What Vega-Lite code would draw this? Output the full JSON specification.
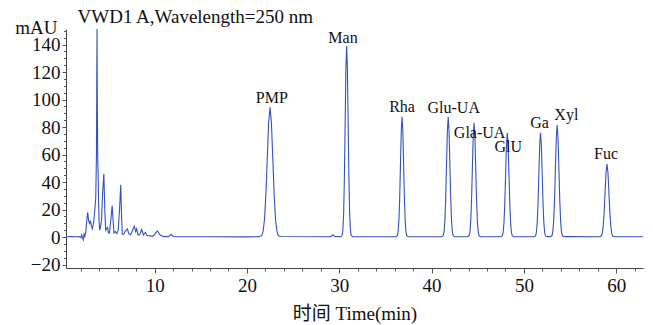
{
  "$schema": "https://vega.github.io/schema/vega-lite/v6.json",
  "width": 577,
  "height": 239,
  "autosize": {"type": "none"},
  "padding": {"left": 66, "top": 29, "right": 10, "bottom": 57},
  "background": "white",
  "config": {
    "view": {"stroke": null},
    "font": "Liberation Serif, Noto Sans CJK SC",
    "axis": {"grid": false, "domainColor": "#444", "tickColor": "#555", "labelColor": "#111", "titleColor": "#111", "labelFont": "Liberation Serif", "titleFont": "Liberation Serif, Noto Sans CJK SC", "labelFontSize": 19, "titleFontSize": 19, "titleFontWeight": "normal"}
  },
  "datasets": {
    "signal": [
      {"t": 0.4, "v": 0.2}, {"t": 1.0, "v": 0.3}, {"t": 1.5, "v": 0.2}, {"t": 1.8, "v": 0.4}, {"t": 2.0, "v": -0.5}, {"t": 2.1, "v": 1.5}, {"t": 2.2, "v": -1.0}, {"t": 2.27, "v": -2.0}, {"t": 2.35, "v": 2.0}, {"t": 2.45, "v": 0.5}, {"t": 2.55, "v": 4}, {"t": 2.65, "v": 12}, {"t": 2.75, "v": 18}, {"t": 2.85, "v": 12}, {"t": 2.95, "v": 10}, {"t": 3.05, "v": 12}, {"t": 3.15, "v": 8}, {"t": 3.25, "v": 6}, {"t": 3.35, "v": 9}, {"t": 3.45, "v": 14}, {"t": 3.55, "v": 22}, {"t": 3.62, "v": 28}, {"t": 3.7, "v": 60}, {"t": 3.76, "v": 151.3}, {"t": 3.8, "v": 90}, {"t": 3.84, "v": 56}, {"t": 3.88, "v": 46}, {"t": 3.93, "v": 26}, {"t": 3.98, "v": 12}, {"t": 4.05, "v": 5}, {"t": 4.15, "v": 8}, {"t": 4.25, "v": 12}, {"t": 4.35, "v": 30}, {"t": 4.5, "v": 46}, {"t": 4.6, "v": 20}, {"t": 4.7, "v": 5}, {"t": 4.8, "v": 6}, {"t": 4.9, "v": 7}, {"t": 5.0, "v": 3}, {"t": 5.1, "v": 3}, {"t": 5.25, "v": 12}, {"t": 5.4, "v": 23}, {"t": 5.5, "v": 12}, {"t": 5.6, "v": 3}, {"t": 5.75, "v": 4}, {"t": 5.9, "v": 2.5}, {"t": 6.05, "v": 5}, {"t": 6.2, "v": 20}, {"t": 6.33, "v": 38}, {"t": 6.42, "v": 15}, {"t": 6.5, "v": 2}, {"t": 6.65, "v": 2}, {"t": 6.8, "v": 4}, {"t": 7.05, "v": 6}, {"t": 7.2, "v": 2.5}, {"t": 7.4, "v": 1.5}, {"t": 7.6, "v": 5}, {"t": 7.8, "v": 8}, {"t": 7.95, "v": 4}, {"t": 8.05, "v": 6}, {"t": 8.2, "v": 1.5}, {"t": 8.4, "v": 2}, {"t": 8.6, "v": 5.5}, {"t": 8.8, "v": 1.5}, {"t": 9.0, "v": 3.5}, {"t": 9.2, "v": 1}, {"t": 9.5, "v": 1}, {"t": 9.8, "v": 0.5}, {"t": 10.0, "v": 2}, {"t": 10.3, "v": 4.5}, {"t": 10.6, "v": 1.5}, {"t": 11.0, "v": 0.3}, {"t": 11.5, "v": 0.3}, {"t": 11.8, "v": 2}, {"t": 12.0, "v": 0.4}, {"t": 12.5, "v": 0.2},
      {"t": 16.0, "v": 0.2}, {"t": 20.0, "v": 0.1},
      {"t": 21.3, "v": 0.3}, {"t": 21.6, "v": 1.0}, {"t": 21.75, "v": 4.1}, {"t": 21.9, "v": 12.8}, {"t": 22.05, "v": 30.6}, {"t": 22.2, "v": 57.2}, {"t": 22.35, "v": 83.2}, {"t": 22.5, "v": 94.3}, {"t": 22.65, "v": 83.2}, {"t": 22.8, "v": 57.2}, {"t": 22.95, "v": 30.6}, {"t": 23.1, "v": 12.8}, {"t": 23.25, "v": 4.1}, {"t": 23.4, "v": 1.0}, {"t": 23.7, "v": 0.4},
      {"t": 28.8, "v": 0.2}, {"t": 29.1, "v": 0.5}, {"t": 29.3, "v": 1.7}, {"t": 29.5, "v": 0.4}, {"t": 30.0, "v": 0.3},
      {"t": 30.16, "v": 0.2}, {"t": 30.32, "v": 1.5}, {"t": 30.4, "v": 6.1}, {"t": 30.48, "v": 18.8}, {"t": 30.56, "v": 45.1}, {"t": 30.64, "v": 84.3}, {"t": 30.72, "v": 122.7}, {"t": 30.8, "v": 139}, {"t": 30.88, "v": 122.7}, {"t": 30.96, "v": 84.3}, {"t": 31.04, "v": 45.1}, {"t": 31.12, "v": 18.8}, {"t": 31.2, "v": 6.1}, {"t": 31.28, "v": 1.5}, {"t": 31.44, "v": 0.2},
      {"t": 36.12, "v": 0.2}, {"t": 36.29, "v": 1.0}, {"t": 36.375, "v": 3.8}, {"t": 36.46, "v": 11.8}, {"t": 36.545, "v": 28.4}, {"t": 36.63, "v": 53.1}, {"t": 36.715, "v": 77.2}, {"t": 36.8, "v": 87.5}, {"t": 36.885, "v": 77.2}, {"t": 36.97, "v": 53.1}, {"t": 37.055, "v": 28.4}, {"t": 37.14, "v": 11.8}, {"t": 37.225, "v": 3.8}, {"t": 37.31, "v": 1.0}, {"t": 37.48, "v": 0.2},
      {"t": 41.08, "v": 0.2}, {"t": 41.26, "v": 1.0}, {"t": 41.35, "v": 3.8}, {"t": 41.44, "v": 11.8}, {"t": 41.53, "v": 28.4}, {"t": 41.62, "v": 53.1}, {"t": 41.71, "v": 77.2}, {"t": 41.8, "v": 87.5}, {"t": 41.89, "v": 77.2}, {"t": 41.98, "v": 53.1}, {"t": 42.07, "v": 28.4}, {"t": 42.16, "v": 11.8}, {"t": 42.25, "v": 3.8}, {"t": 42.34, "v": 1.0}, {"t": 42.52, "v": 0.2},
      {"t": 43.88, "v": 0.2}, {"t": 44.06, "v": 0.9}, {"t": 44.15, "v": 3.6}, {"t": 44.24, "v": 11.2}, {"t": 44.33, "v": 27.0}, {"t": 44.42, "v": 50.4}, {"t": 44.51, "v": 73.3}, {"t": 44.6, "v": 83.1}, {"t": 44.69, "v": 73.3}, {"t": 44.78, "v": 50.4}, {"t": 44.87, "v": 27.0}, {"t": 44.96, "v": 11.2}, {"t": 45.05, "v": 3.6}, {"t": 45.14, "v": 0.9}, {"t": 45.32, "v": 0.2},
      {"t": 47.48, "v": 0.2}, {"t": 47.66, "v": 0.8}, {"t": 47.75, "v": 3.3}, {"t": 47.84, "v": 10.3}, {"t": 47.93, "v": 24.6}, {"t": 48.02, "v": 46.0}, {"t": 48.11, "v": 67.0}, {"t": 48.2, "v": 75.9}, {"t": 48.29, "v": 67.0}, {"t": 48.38, "v": 46.0}, {"t": 48.47, "v": 24.6}, {"t": 48.56, "v": 10.3}, {"t": 48.65, "v": 3.3}, {"t": 48.74, "v": 0.8}, {"t": 48.92, "v": 0.2},
      {"t": 51.08, "v": 0.2}, {"t": 51.26, "v": 0.8}, {"t": 51.35, "v": 3.3}, {"t": 51.44, "v": 10.3}, {"t": 51.53, "v": 24.6}, {"t": 51.62, "v": 46.0}, {"t": 51.71, "v": 67.0}, {"t": 51.8, "v": 75.9}, {"t": 51.89, "v": 67.0}, {"t": 51.98, "v": 46.0}, {"t": 52.07, "v": 24.6}, {"t": 52.16, "v": 10.3}, {"t": 52.25, "v": 3.3}, {"t": 52.34, "v": 0.8}, {"t": 52.52, "v": 0.3}, {"t": 52.75, "v": 0.3},
      {"t": 52.84, "v": 0.3}, {"t": 53.03, "v": 0.9}, {"t": 53.125, "v": 3.6}, {"t": 53.22, "v": 11.0}, {"t": 53.315, "v": 26.5}, {"t": 53.41, "v": 49.4}, {"t": 53.505, "v": 71.9}, {"t": 53.6, "v": 81.5}, {"t": 53.695, "v": 71.9}, {"t": 53.79, "v": 49.4}, {"t": 53.885, "v": 26.5}, {"t": 53.98, "v": 11.0}, {"t": 54.075, "v": 3.6}, {"t": 54.17, "v": 0.9}, {"t": 54.36, "v": 0.3},
      {"t": 58.16, "v": 0.2}, {"t": 58.37, "v": 0.6}, {"t": 58.475, "v": 2.3}, {"t": 58.58, "v": 7.2}, {"t": 58.685, "v": 17.2}, {"t": 58.79, "v": 32.2}, {"t": 58.895, "v": 46.9}, {"t": 59.0, "v": 53.1}, {"t": 59.105, "v": 46.9}, {"t": 59.21, "v": 32.2}, {"t": 59.315, "v": 17.2}, {"t": 59.42, "v": 7.2}, {"t": 59.525, "v": 2.3}, {"t": 59.63, "v": 0.6}, {"t": 59.84, "v": 0.2}, {"t": 62.9, "v": 0.2}
    ],
    "labels": [
      {"name": "PMP", "t": 22.7, "v": 100.9},
      {"name": "Man", "t": 30.4, "v": 144.5},
      {"name": "Rha", "t": 36.8, "v": 94.7},
      {"name": "Glu-UA", "t": 42.4, "v": 93.6},
      {"name": "Gla-UA", "t": 45.2, "v": 75.9},
      {"name": "GlU", "t": 48.3, "v": 65.7},
      {"name": "Ga", "t": 51.7, "v": 83.1},
      {"name": "Xyl", "t": 54.6, "v": 88.7},
      {"name": "Fuc", "t": 58.9, "v": 60.4}
    ]
  },
  "layer": [
    {
      "data": {"name": "signal"},
      "mark": {"type": "line", "color": "#3352c0", "strokeWidth": 1.1, "clip": true},
      "encoding": {
        "x": {"field": "t", "type": "quantitative", "scale": {"domain": [0.4, 62.9], "nice": false, "zero": false},
          "axis": {"orient": "bottom", "values": [10, 20, 30, 40, 50, 60], "tickSize": 5, "labelPadding": 3, "title": "时间 Time(min)", "titleBaseline": "alphabetic", "titleY": 51, "titleX": 288.5, "titleAlign": "center"}},
        "y": {"field": "v", "type": "quantitative", "scale": {"domain": [-22.5, 151.3], "nice": false, "zero": false},
          "axis": {"orient": "left", "values": [-20, 0, 20, 40, 60, 80, 100, 120, 140], "tickSize": 4, "labelPadding": 2, "title": "mAU", "titleAngle": 0, "titleAlign": "right", "titleBaseline": "alphabetic", "titleX": -9, "titleY": 4}}
      }
    },
    {
      "data": {"name": "labels"},
      "mark": {"type": "text", "font": "Liberation Serif", "fontSize": 16, "color": "#111", "baseline": "middle", "align": "center"},
      "encoding": {
        "x": {"field": "t", "type": "quantitative", "scale": {"domain": [0.4, 62.9], "nice": false, "zero": false},
          "axis": {"orient": "bottom", "values": [2, 4, 6, 8, 12, 14, 16, 18, 22, 24, 26, 28, 32, 34, 36, 38, 42, 44, 46, 48, 52, 54, 56, 58, 62], "tickSize": 3, "labels": false, "domain": false, "title": "VWD1 A,Wavelength=250 nm", "titleFont": "Liberation Serif", "titleAlign": "left", "titleAnchor": "start", "titleBaseline": "alphabetic", "titleX": 11, "titleY": -245.5}},
        "y": {"field": "v", "type": "quantitative", "scale": {"domain": [-22.5, 151.3], "nice": false, "zero": false},
          "axis": {"orient": "left", "values": [-15, -10, -5, 5, 10, 15, 25, 30, 35, 45, 50, 55, 65, 70, 75, 85, 90, 95, 105, 110, 115, 125, 130, 135, 145, 150], "tickSize": 2.5, "labels": false, "domain": false, "title": null}},
        "text": {"field": "name", "type": "nominal"}
      }
    }
  ],
  "resolve": {"axis": {"x": "independent", "y": "independent"}}
}
